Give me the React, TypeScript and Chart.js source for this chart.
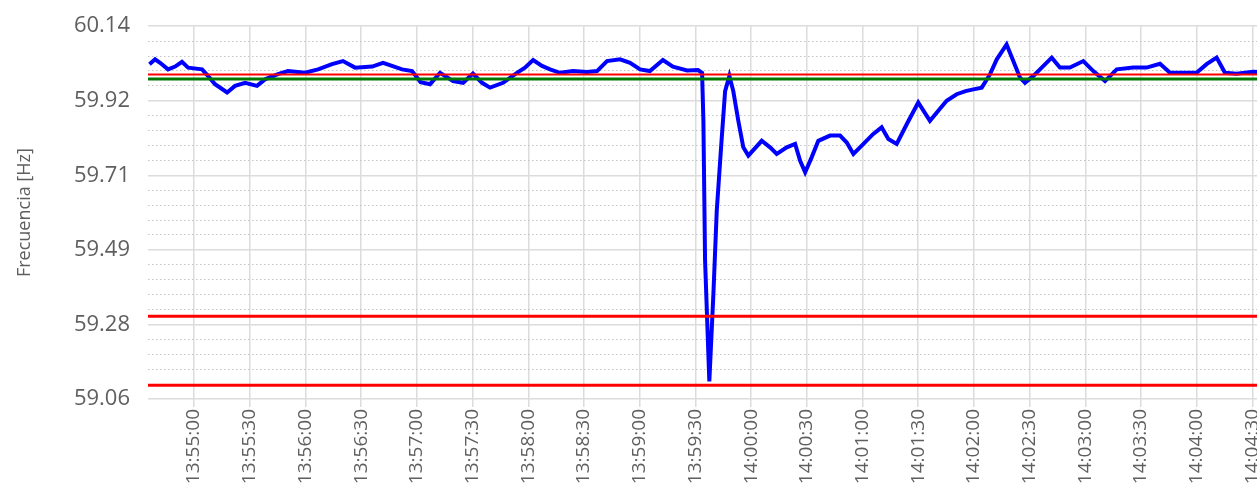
import React, { useEffect, useRef } from "react";
import { Chart, registerables } from "chart.js";

Chart.register(...registerables);

// Time of each sample, seconds after 13:55:00
const BASE_TIME = "13:55:00";
const timeOffsets = [
  -24, -21.0, -18.3, -14.0, -10.2, -6.5, -3.2, 4.3, 7.5, 11.3, 17.8, 22.1, 27.5, 33.9, 38.2,
  45.2, 50.6, 59.8, 66.8, 74.3, 80.2, 86.7, 95.9, 101.8, 106.6, 112.0, 117.4, 122, 127.1,
  132.5, 139.5, 144.9, 150.2, 155.1, 159.4, 166.4, 173.9, 178.2, 182.6, 187.4, 191.7, 197.1,
  204.1, 211.6, 217.0, 222.4, 229.4, 234.8, 240.2, 245.5, 252.5, 257.9, 265.5, 271.4, 273.6,
  274.3, 275.2, 277.5, 279.7, 281.5, 284.2, 286.0, 288.3, 290.4, 293.1, 295.8, 298.5, 305.7,
  310.2, 313.8, 319.2, 323.7, 326.4, 329.1, 332.6, 336.2, 342.5, 347.9, 351.5, 355.1, 360.5,
  365.8, 370.3, 373.9, 378.4, 383.8, 390.0, 396.3, 400.8, 405.3, 410.7, 415.5, 419.7, 424.2,
  428.7, 432.3, 437.6, 441.2, 444.8, 447.5, 452.0, 456.5, 461.9, 466.3, 471.7, 478.9, 484.3,
  490.6, 496.9, 505.8, 513.0, 520.2, 525.6, 532.7, 539.9, 545.3, 550.7, 555.2, 561.5, 570.4, 580,
];

const frequencyHz = [
  60.03, 60.044, 60.034, 60.015, 60.023, 60.037, 60.02, 60.015, 59.996, 59.972, 59.948, 59.967,
  59.976, 59.967, 59.986, 60.001, 60.01, 60.005, 60.015, 60.03, 60.039, 60.02, 60.023, 60.034,
  60.025, 60.015, 60.01, 59.978, 59.972, 60.005, 59.981, 59.976, 60.003, 59.976, 59.962, 59.976,
  60.005, 60.02, 60.042, 60.025, 60.015, 60.005, 60.01, 60.007, 60.01, 60.039, 60.044, 60.034,
  60.015, 60.01, 60.042, 60.023, 60.012, 60.013, 60.005, 59.866, 59.462, 59.111, 59.366, 59.606,
  59.818, 59.952, 59.996, 59.952, 59.866, 59.789, 59.765, 59.808, 59.789, 59.77, 59.789, 59.799,
  59.75, 59.717, 59.76, 59.808, 59.823, 59.823, 59.803, 59.77, 59.799, 59.828, 59.847, 59.813,
  59.799, 59.856, 59.919, 59.866, 59.895, 59.924, 59.943, 59.952, 59.957, 59.962, 60.001, 60.044,
  60.087, 60.039, 59.991, 59.976, 59.996, 60.02, 60.049, 60.02, 60.02, 60.039, 60.01, 59.981,
  60.015, 60.02, 60.02, 60.031, 60.005, 60.005, 60.005, 60.03, 60.049, 60.005, 60.002, 60.008,
  60.006,
];

const redLimitsHz = [60.0, 59.3, 59.1];
const redLimitWidths = [2, 3, 3];
const greenLevelHz = [59.987];

const xTickLabels = [
  "13:55:00", "13:55:30", "13:56:00", "13:56:30", "13:57:00", "13:57:30", "13:58:00",
  "13:58:30", "13:59:00", "13:59:30", "14:00:00", "14:00:30", "14:01:00", "14:01:30",
  "14:02:00", "14:02:30", "14:03:00", "14:03:30", "14:04:00", "14:04:30",
];
const yTickValues = [59.06, 59.276, 59.492, 59.708, 59.924, 60.14];
const yTickLabels = ["59.06", "59.28", "59.49", "59.71", "59.92", "60.14"];

const X_MIN = -24.8;
const X_MAX = 595.6;
const Y_MIN = 59.06;
const Y_MAX = 60.14;

const toSec = (s: string) => {
  const [h, m, x] = s.split(":").map(Number);
  return h * 3600 + m * 60 + x;
};
const baseSec = toSec(BASE_TIME);
const xTickValues = xTickLabels.map((l) => toSec(l) - baseSec);

const FONT = "'Open Sans', 'Noto Sans', sans-serif";
const TEXT = "#5f5f5f";

export default function App() {
  const ref = useRef<HTMLCanvasElement | null>(null);

  useEffect(() => {
    if (!ref.current) return;
    const limitSets = redLimitsHz.map((v, i) => ({
      data: [
        { x: X_MIN, y: v },
        { x: X_MAX, y: v },
      ],
      borderColor: "#ff0000",
      borderWidth: redLimitWidths[i],
      pointRadius: 0,
      order: 0,
    }));
    const greenSets = greenLevelHz.map((v) => ({
      data: [
        { x: X_MIN, y: v },
        { x: X_MAX, y: v },
      ],
      borderColor: "#007800",
      borderWidth: 3,
      pointRadius: 0,
      order: 1,
    }));
    const chart = new Chart(ref.current, {
      type: "line",
      data: {
        datasets: [
          ...limitSets,
          ...greenSets,
          {
            data: timeOffsets.map((t, i) => ({ x: t, y: frequencyHz[i] })),
            borderColor: "#0000ff",
            borderWidth: 4,
            pointRadius: 0,
            tension: 0,
            order: 2,
          },
        ] as any,
      },
      options: {
        animation: false,
        responsive: true,
        maintainAspectRatio: false,
        layout: { padding: { top: 0, left: 0, right: 0, bottom: 0 } },
        plugins: { legend: { display: false }, tooltip: { enabled: false } },
        scales: {
          x: {
            type: "linear",
            min: X_MIN,
            max: X_MAX,
            afterBuildTicks: (s: any) => {
              s.ticks = xTickValues.map((v) => ({ value: v }));
            },
            afterFit: (s: any) => {
              s.height = 89;
            },
            ticks: {
              autoSkip: false,
              minRotation: 90,
              maxRotation: 90,
              padding: 2,
              color: TEXT,
              font: { family: FONT, size: 19 },
              callback: (v: any) => {
                const i = xTickValues.indexOf(v);
                return i >= 0 ? xTickLabels[i] : "";
              },
            },
            grid: { color: "#dcdcdc", lineWidth: 1.5, tickLength: 8, drawTicks: true },
            border: { display: false },
          },
          y2: {
            position: "left",
            min: Y_MIN,
            max: Y_MAX,
            afterBuildTicks: (s: any) => {
              const arr: any[] = [];
              for (let i = 0; i < yTickValues.length - 1; i++) {
                const a = yTickValues[i];
                const b = yTickValues[i + 1];
                for (let k = 1; k < 5; k++) arr.push({ value: a + ((b - a) * k) / 5 });
              }
              s.ticks = arr;
            },
            afterFit: (s: any) => {
              s.width = 0;
            },
            ticks: { display: false },
            grid: { color: "#c4c4c4", lineWidth: 1, drawTicks: false },
            border: { display: false, dash: [1.5, 2.5] },
          },
          y: {
            position: "left",
            min: Y_MIN,
            max: Y_MAX,
            afterBuildTicks: (s: any) => {
              s.ticks = yTickValues.map((v) => ({ value: v }));
            },
            afterFit: (s: any) => {
              s.width = 148;
            },
            ticks: {
              padding: 18,
              color: TEXT,
              font: { family: FONT, size: 22 },
              callback: (v: any) => {
                const i = yTickValues.indexOf(v);
                return i >= 0 ? yTickLabels[i] : "";
              },
            },
            grid: { color: "#dcdcdc", lineWidth: 1.5, drawTicks: false },
            border: { display: false },
            title: {
              display: true,
              text: "Frecuencia [Hz]",
              color: TEXT,
              font: { family: FONT, size: 18 },
              padding: { top: 14, bottom: 0 },
            },
          },
        },
      } as any,
    });
    return () => chart.destroy();
  }, []);

  return (
    <div
      style={{
        position: "absolute",
        left: 0,
        top: 0,
        width: 1257,
        height: 488,
        overflow: "hidden",
        background: "#fff",
      }}
    >
      <div style={{ position: "relative", top: -5, width: 1300, height: 493 }}>
        <canvas ref={ref} />
      </div>
    </div>
  );
}
